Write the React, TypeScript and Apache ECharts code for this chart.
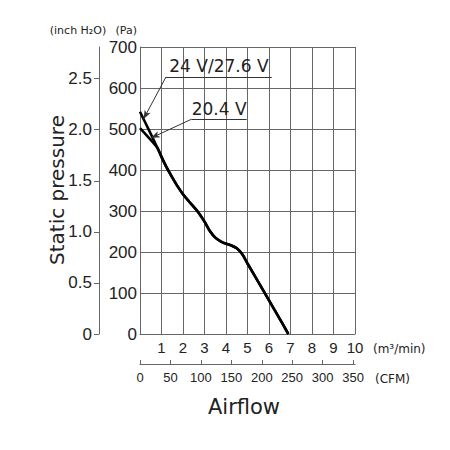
import React, { useEffect, useRef } from 'react';
import * as echarts from 'echarts';

// Axis ticks
const flowTicks = [0, 1, 2, 3, 4, 5, 6, 7, 8, 9, 10];
const cfmTicks = [0, 50, 100, 150, 200, 250, 300, 350];
const paTicks = [0, 100, 200, 300, 400, 500, 600, 700];
const inchTicks = [0, 0.5, 1, 1.5, 2, 2.5];

// Curves (airflow m³/min, static pressure Pa)
const flow24Start = [0, 0.4];
const pa24Start = [542, 499];
const flow204Start = [0, 0.4];
const pa204Start = [502, 479];
const mergedFlow = [0.8, 1.0, 1.25, 1.5, 1.75, 2.0, 2.25, 2.5, 2.75, 3.0, 3.25, 3.5, 3.75, 4.0, 4.25, 4.5, 4.75, 5.0, 5.5, 6.0, 6.5, 6.9];
const mergedPa = [455, 432, 405, 382, 360, 341, 325, 310, 294, 274, 251, 235, 226, 220, 216, 209, 195, 172, 127, 82, 37, 0];

// Annotations (data coordinates)
const label24 = '24 V/27.6 V';
const underline24 = [[1.21, 627], [6.13, 627]];
const arrow24 = [[1.21, 627], [0.16, 524]];
const label204 = '20.4 V';
const underline204 = [[2.4, 524], [4.96, 524]];
const arrow204 = [[2.4, 524], [0.51, 478]];

const PA_PER_INCH = 249.0889;
const CFM_PER_M3MIN = 35.3147;

const TICKFONT = '"Liberation Sans", Arial, sans-serif';
const SANS = '"DejaVu Sans", sans-serif';
const GRID = '#666';
const TEXT = '#222';

function zip(xs: number[], ys: number[]) {
  return xs.map((x, i) => [x, ys[i]]);
}

export default function App() {
  const ref = useRef<HTMLDivElement>(null);
  useEffect(() => {
    if (!ref.current) return;
    const chart = echarts.init(ref.current, null, { renderer: 'svg' });
    const lineStyle = { color: '#000', width: 2.6 };
    const seg = (pts: number[][], label?: string, arrow?: boolean) => [
      {
        coord: pts[0],
        symbol: 'none',
        label: label
          ? { show: true, formatter: label, position: 'insideMiddleTop', distance: 2, fontFamily: SANS, fontSize: 17, color: TEXT }
          : { show: false },
      },
      { coord: pts[1], symbol: arrow ? 'arrow' : 'none', symbolSize: [5, 9] },
    ];
    chart.setOption({
      animation: false,
      grid: { left: 140, right: 95, top: 47, bottom: 116, containLabel: false },
      xAxis: [
        {
          type: 'value', min: 0, max: 10, interval: 1, position: 'bottom',
          axisLine: { show: true, onZero: false, lineStyle: { color: GRID, width: 1 } },
          axisTick: { show: false },
          splitLine: { show: true, lineStyle: { color: GRID, width: 1 } },
          axisLabel: {
            customValues: flowTicks,
            formatter: (v: number) => (v === 0 ? '' : String(v)),
            margin: 6, fontSize: 15, color: TEXT, fontFamily: TICKFONT,
          },
        },
        {
          type: 'value', min: 0, max: 10 * CFM_PER_M3MIN, position: 'bottom', offset: 30,
          axisLine: { show: true, onZero: false, lineStyle: { color: GRID, width: 1 } },
          axisTick: { show: true, inside: true, length: 4, customValues: cfmTicks, lineStyle: { color: GRID } },
          splitLine: { show: false },
          axisLabel: { customValues: cfmTicks, margin: 7, fontSize: 13, color: TEXT, fontFamily: TICKFONT },
        },
      ],
      yAxis: [
        {
          type: 'value', min: 0, max: 700, interval: 100, position: 'left',
          axisLine: { show: true, onZero: false, lineStyle: { color: GRID, width: 1 } },
          axisTick: { show: false },
          splitLine: { show: true, lineStyle: { color: GRID, width: 1 } },
          axisLabel: { customValues: paTicks, margin: 3, fontSize: 17, color: TEXT, fontFamily: TICKFONT, padding: [6, 0, 0, 0] },
        },
        {
          type: 'value', min: 0, max: 700 / PA_PER_INCH, position: 'left', offset: 41,
          axisLine: { show: true, onZero: false, lineStyle: { color: GRID, width: 1 } },
          axisTick: { show: true, length: 5, customValues: inchTicks, lineStyle: { color: GRID } },
          splitLine: { show: false },
          axisLabel: {
            customValues: inchTicks,
            formatter: (v: number) => (v === 0 ? '0' : v.toFixed(1)),
            margin: 7, fontSize: 17, color: TEXT, fontFamily: TICKFONT,
          },
        },
      ],
      series: [
        {
          type: 'line', xAxisIndex: 0, yAxisIndex: 0, showSymbol: false, smooth: 0.3,
          data: zip(flow24Start.concat(mergedFlow), pa24Start.concat(mergedPa)),
          lineStyle, silent: true,
          markLine: {
            silent: true, animation: false,
            lineStyle: { color: '#333', width: 1, type: 'solid' },
            data: [
              seg(underline24, label24),
              seg(arrow24, undefined, true),
              seg(underline204, label204),
              seg(arrow204, undefined, true),
            ],
          },
        },
        {
          type: 'line', xAxisIndex: 0, yAxisIndex: 0, showSymbol: false, smooth: 0.3,
          data: zip(flow204Start.concat(mergedFlow), pa204Start.concat(mergedPa)),
          lineStyle, silent: true,
        },
      ],
      graphic: [
        { type: 'text', x: 78, y: 30, style: { text: '(inch H₂O)', fontSize: 11, fontFamily: SANS, fill: TEXT, align: 'center', verticalAlign: 'middle' } },
        { type: 'text', x: 137, y: 30, style: { text: '(Pa)', fontSize: 11, fontFamily: SANS, fill: TEXT, align: 'right', verticalAlign: 'middle' } },
        { type: 'text', x: 373, y: 349, style: { text: '(m³/min)', fontSize: 12, fontFamily: SANS, fill: TEXT, align: 'left', verticalAlign: 'middle' } },
        { type: 'text', x: 375, y: 379, style: { text: '(CFM)', fontSize: 12, fontFamily: SANS, fill: TEXT, align: 'left', verticalAlign: 'middle' } },
        { type: 'text', x: 57, y: 190, rotation: Math.PI / 2, style: { text: 'Static pressure', fontSize: 20, fontFamily: SANS, fill: TEXT, align: 'center', verticalAlign: 'middle' } },
        { type: 'text', x: 244, y: 407, style: { text: 'Airflow', fontSize: 21, fontFamily: SANS, fill: TEXT, align: 'center', verticalAlign: 'middle' } },
      ],
    });
    return () => chart.dispose();
  }, []);
  return <div ref={ref} style={{ position: 'absolute', left: 0, top: 0, width: 450, height: 450 }} />;
}
